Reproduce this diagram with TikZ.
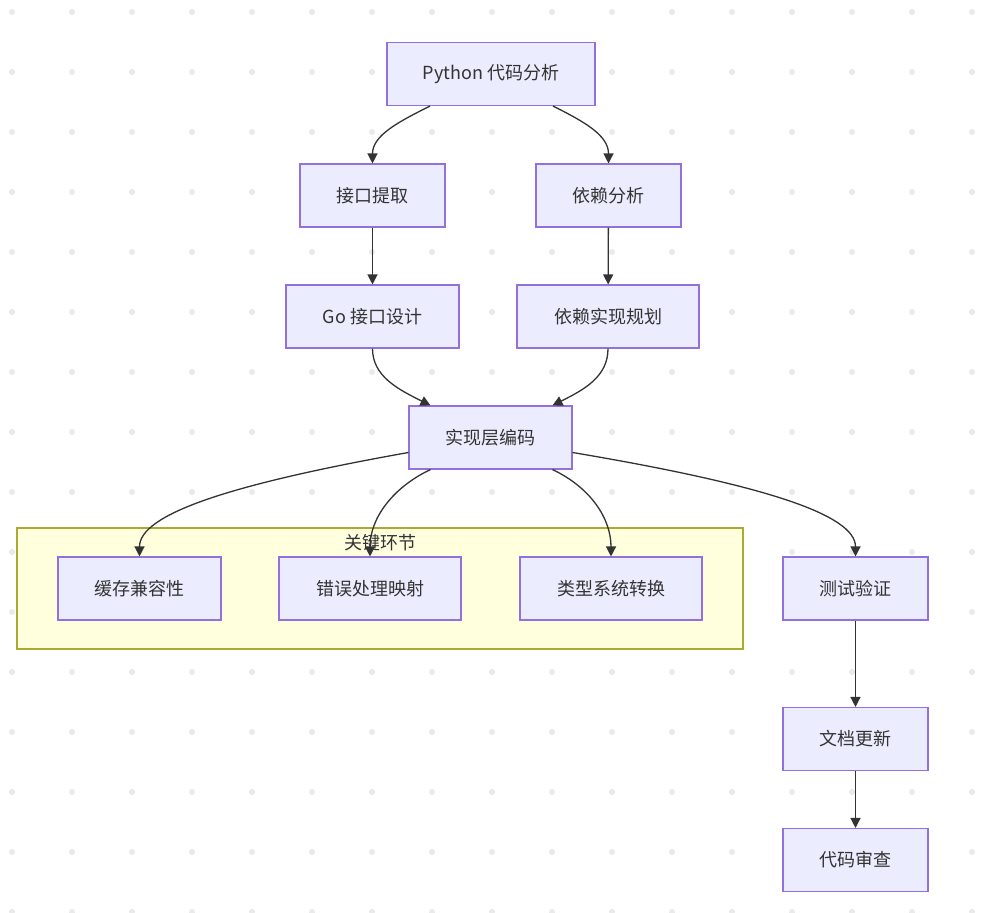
\documentclass[tikz,border=0pt]{standalone}
\usepackage{fontspec}
\setmainfont{Noto Sans CJK SC}
\usetikzlibrary{arrows.meta}
\definecolor{nodefill}{HTML}{ECECFF}
\definecolor{nodeline}{HTML}{9370DB}
\definecolor{clfill}{HTML}{FFFFDE}
\definecolor{clline}{HTML}{AAAA33}
\definecolor{edgec}{HTML}{333333}
\definecolor{dotc}{HTML}{EAEAEA}
\begin{document}
\begin{tikzpicture}[x=1pt,y=-1pt,
  box/.style={draw=nodeline, fill=nodefill, line width=1.1pt, minimum height=63pt, inner sep=0pt, text=edgec, font=\fontsize{18}{21}\selectfont},
  link/.style={draw=edgec, line width=1.3pt, -{Triangle[length=10pt,width=10pt]}},
  cluster/.style={draw=clline, fill=clfill, line width=1.1pt, inner sep=0pt},
  cltitle/.style={text=edgec, font=\fontsize{18}{21}\selectfont, inner sep=0pt}]
\useasboundingbox (0,0) rectangle (992,912);
\fill[white] (0,0) rectangle (992,912);
\foreach \x in {12,72,...,972}
  \foreach \y in {12,72,...,912}
    \fill[dotc] (\x,\y) circle (3pt);

\node[cluster, minimum width=726pt, minimum height=121pt] (cl) at (380,588.5) {};
\node[cltitle] (cllabel) at (380,543) {关键环节};

\node[box, minimum width=208pt] (py) at (491,74) {Python 代码分析};
\node[box, minimum width=145pt] (jk) at (372.5,195.5) {接口提取};
\node[box, minimum width=145pt] (yl) at (608.5,195.5) {依赖分析};
\node[box, minimum width=173pt] (go) at (372.5,316.5) {Go 接口设计};
\node[box, minimum width=182pt] (gh) at (608,316.5) {依赖实现规划};
\node[box, minimum width=163pt] (sx) at (490.5,437.5) {实现层编码};
\node[box, minimum width=163pt] (hc) at (139.5,588.5) {缓存兼容性};
\node[box, minimum width=182pt] (cw) at (370,588.5) {错误处理映射};
\node[box, minimum width=182pt] (lx) at (611,588.5) {类型系统转换};
\node[box, minimum width=145pt] (cs) at (855.5,588.5) {测试验证};
\node[box, minimum width=145pt] (wd) at (855.5,739) {文档更新};
\node[box, minimum width=145pt] (dm) at (855.5,860) {代码审查};

\draw[link] ([xshift=-61pt]py.south) .. controls +(-32,16) and +(0,-28) .. (jk.north);
\draw[link] ([xshift=62pt]py.south) .. controls +(32,16) and +(0,-28) .. (yl.north);
\draw[link] (jk) -- (go);
\draw[link] (yl) -- (gh);
\draw[link] (go.south) .. controls +(0,28) and +(-32,-16) .. ([xshift=-60pt]sx.north);
\draw[link] (gh.south) .. controls +(0,28) and +(32,-16) .. ([xshift=62pt]sx.north);
\draw[link] ([yshift=-15pt]sx.west) .. controls +(-180,32) and +(0,-42) .. (hc.north);
\draw[link] ([xshift=-60pt]sx.south) .. controls +(-38,18) and +(0,-38) .. (cw.north);
\draw[link] ([xshift=62pt]sx.south) .. controls +(38,18) and +(0,-38) .. (lx.north);
\draw[link] ([yshift=-15pt]sx.east) .. controls +(190,32) and +(0,-42) .. (cs.north);
\draw[link] (cs) -- (wd);
\draw[link] (wd) -- (dm);
\end{tikzpicture}
\end{document}
